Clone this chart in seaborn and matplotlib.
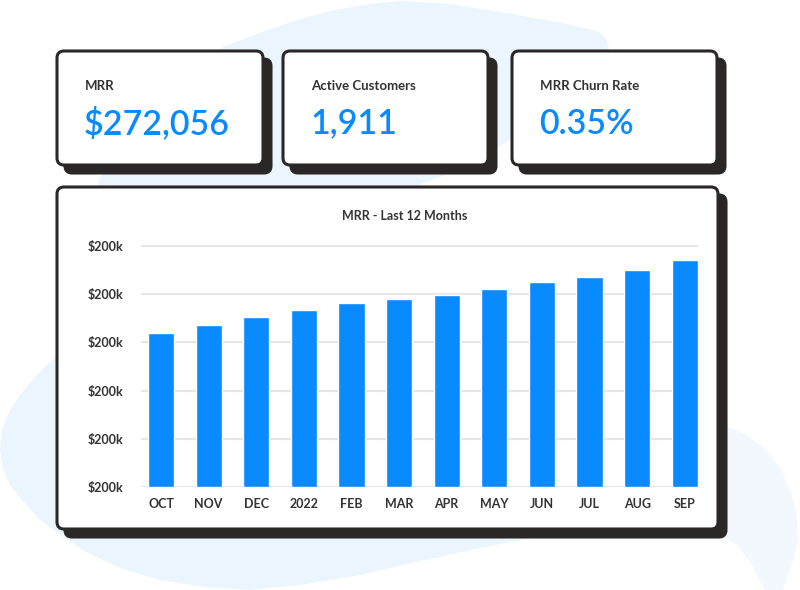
import numpy as np
import pandas as pd
import matplotlib.pyplot as plt
import seaborn as sns
from matplotlib.patches import FancyBboxPatch, Polygon

# chart data
months = ["OCT", "NOV", "DEC", "2022", "FEB", "MAR", "APR", "MAY", "JUN", "JUL", "AUG", "SEP"]
mrr_k = [160.0, 167.7, 176.0, 183.6, 191.2, 195.0, 199.0, 205.4, 213.0, 217.8, 225.4, 235.2]
y_ticks = [0, 50, 100, 150, 200, 250]
y_tick_labels = ["$200k", "$200k", "$200k", "$200k", "$200k", "$200k"]
chart_title = "MRR - Last 12 Months"

# kpi cards
kpi_labels = ["MRR", "Active Customers", "MRR Churn Rate"]
kpi_values = ["$272,056", "1,911", "0.35%"]

BLUE = "#0A8AFF"
INK = "#2b2727"
TEXT = "#333333"
BLOB = "#EBF5FE"

sns.set_theme(style="white")
plt.rcParams["font.family"] = ["Lato", "DejaVu Sans"]

W, H = 800, 590
fig = plt.figure(figsize=(W / 100, H / 100), dpi=100)
fig.patch.set_facecolor("white")

# background layer in pixel coordinates
bg = fig.add_axes([0, 0, 1, 1], zorder=0)
bg.set_xlim(0, W)
bg.set_ylim(H, 0)
bg.axis("off")

blob_main = [(57, 352), (72, 260), (100, 178), (140, 118), (185, 72), (225, 46),
             (262, 32), (300, 19), (335, 10), (370, 4), (400, 1), (450, 4), (500, 12),
             (567, 24), (598, 31), (607, 40), (609, 50), (603, 62), (560, 98), (512, 138),
             (465, 168), (420, 184), (520, 320), (560, 460), (535, 537), (480, 548),
             (420, 561), (360, 575), (300, 585), (250, 590), (205, 587), (160, 580),
             (120, 568), (88, 553), (60, 535), (38, 518), (22, 500), (10, 485),
             (3, 468), (0, 450), (2, 430), (9, 412), (20, 395), (35, 377), (57, 355)]
blob_right = [(726, 426), (745, 434), (764, 448), (780, 468), (791, 492), (797, 515),
              (798, 540), (792, 565), (782, 592), (766, 592), (752, 565), (738, 546),
              (726, 538)]
bg.add_patch(Polygon(blob_main, closed=True, facecolor=BLOB, edgecolor="none"))
bg.add_patch(Polygon(blob_right, closed=True, facecolor="#F2F8FE", edgecolor="none"))


def card(x0, y0, x1, y1, shadow=8):
    sh = FancyBboxPatch((x0 + shadow, y0 + shadow), x1 - x0, y1 - y0,
                        boxstyle="round,pad=0,rounding_size=7",
                        facecolor=INK, edgecolor=INK, linewidth=2.2)
    bx = FancyBboxPatch((x0, y0), x1 - x0, y1 - y0,
                        boxstyle="round,pad=0,rounding_size=7",
                        facecolor="white", edgecolor=INK, linewidth=2.2)
    bg.add_patch(sh)
    bg.add_patch(bx)


card_x = [(57, 263), (283, 488), (512, 717)]
for (x0, x1), lab, val in zip(card_x, kpi_labels, kpi_values):
    card(x0, 51, x1, 165)
    bg.text(x0 + 28, 86, lab, fontsize=9.5, color=TEXT, ha="left", va="center",
            fontweight="bold")
    bg.text(x0 + 27, 123.5, val, fontsize=24.5, color=BLUE, ha="left", va="center",
            fontweight="semibold")

card(57, 187, 718, 529)
bg.text(405, 215.5, chart_title, fontsize=9, color=TEXT, ha="center", va="center",
        fontweight="bold")

# bar chart
ax_l, ax_r, ax_t, ax_b = 141, 698, 240, 487
ax = fig.add_axes([ax_l / W, (H - ax_b) / H, (ax_r - ax_l) / W, (ax_b - ax_t) / H], zorder=2)
ax.set_facecolor("none")

df = pd.DataFrame({"month": months, "mrr": mrr_k})
sns.barplot(data=df, x="month", y="mrr", color=BLUE, saturation=1, width=0.55, ax=ax)

ax.set_xlim(-0.42, 11.28)
ax.set_ylim(0, 256.2)
ax.set_yticks(y_ticks)
ax.set_yticklabels(y_tick_labels)
ax.set_xlabel("")
ax.set_ylabel("")
ax.yaxis.grid(True, color="#e6e6e6", linewidth=1.5)
ax.xaxis.grid(False)
ax.set_axisbelow(True)
for s in ax.spines.values():
    s.set_visible(False)
ax.tick_params(axis="x", length=0, pad=8, labelsize=9, labelcolor=TEXT)
ax.tick_params(axis="y", length=0, pad=13, labelsize=9, labelcolor=TEXT)
for t in ax.get_xticklabels() + ax.get_yticklabels():
    t.set_fontweight("bold")

fig.savefig("out.png", dpi=100)
